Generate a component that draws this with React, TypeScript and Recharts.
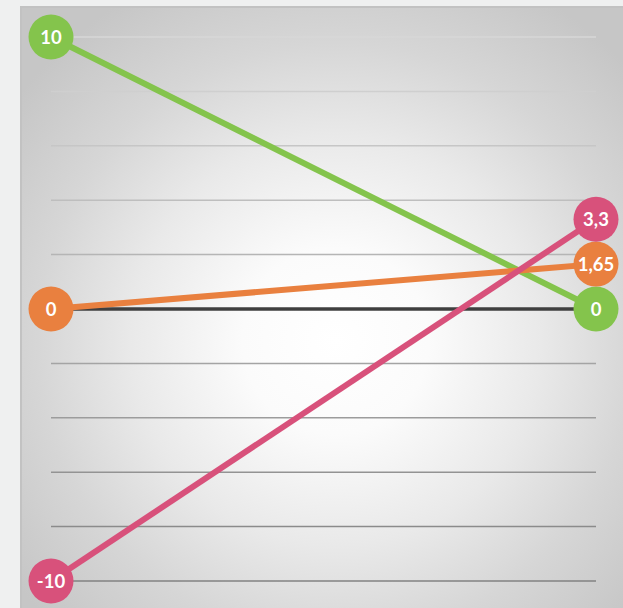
import React from 'react';
import { LineChart, Line, XAxis, YAxis, CartesianGrid, ReferenceLine } from 'recharts';

const categories = ['start', 'end'];
const greenValues = [10, 0];
const orangeValues = [0, 1.65];
const pinkValues = [-10, 3.3];
const yTicks = [-10, -8, -6, -4, -2, 0, 2, 4, 6, 8, 10];

const GREEN = '#84c44c';
const ORANGE = '#e9803f';
const PINK = '#d8517b';

const data = categories.map((name, i) => ({
  name,
  green: greenValues[i],
  orange: orangeValues[i],
  pink: pinkValues[i],
}));

const fmt = (v: number) => String(v).replace('.', ',');

const makeDot = (color: string, key: string) => (props: any) => {
  const { cx, cy, payload, index } = props;
  if (cx == null || cy == null) return <g key={`${key}-${index}`} />;
  return (
    <g key={`${key}-${index}`}>
      <circle cx={cx} cy={cy} r={22.5} fill={color} />
      <text
        x={cx}
        y={cy}
        dy="0.36em"
        textAnchor="middle"
        fill="#fff"
        fontSize={18.5}
        fontWeight={700}
        fontFamily="Lato, 'DejaVu Sans', sans-serif"
      >
        {fmt(payload[key])}
      </text>
    </g>
  );
};

// grid lines get darker toward the bottom of the panel
const gridLine = (props: any) => {
  const { x1, x2, y1, y2, index } = props;
  const t = Math.max(0, Math.min(1, (y1 - 37) / 544));
  const c = Math.round(215 - t * 85);
  return (
    <line
      key={`grid-${index}`}
      x1={x1}
      x2={x2}
      y1={y1}
      y2={y2}
      stroke={`rgb(${c},${c},${c})`}
      strokeWidth={1.5}
    />
  );
};

export default function App() {
  return (
    <div
      style={{
        position: 'absolute',
        left: 0,
        top: 0,
        width: 623,
        height: 608,
        background: '#eff0f0',
        overflow: 'hidden',
      }}
    >
      <div
        style={{
          position: 'absolute',
          left: 20,
          top: 6,
          width: 640,
          height: 640,
          borderTop: '2px solid #c2c2c2',
          borderLeft: '2px solid #c2c2c2',
          background:
            'radial-gradient(circle at 49% 52%, #ffffff 0%, #fbfbfb 20%, #e9e9e9 44%, #d6d6d6 64%, #c6c6c6 86%)',
        }}
      />
      <div style={{ position: 'absolute', left: 0, top: 0 }}>
        <LineChart
          width={623}
          height={608}
          data={data}
          margin={{ top: 37, right: 27, bottom: 27, left: 51 }}
        >
          <CartesianGrid vertical={false} horizontal={gridLine} />
          <XAxis dataKey="name" hide />
          <YAxis hide domain={[-10, 10]} ticks={yTicks} />
          <ReferenceLine y={0} stroke="#3f3f3f" strokeWidth={3.5} />
          <Line
            dataKey="green"
            stroke={GREEN}
            strokeWidth={6}
            dot={makeDot(GREEN, 'green')}
            activeDot={false}
            isAnimationActive={false}
          />
          <Line
            dataKey="orange"
            stroke={ORANGE}
            strokeWidth={6}
            dot={makeDot(ORANGE, 'orange')}
            activeDot={false}
            isAnimationActive={false}
          />
          <Line
            dataKey="pink"
            stroke={PINK}
            strokeWidth={6}
            dot={makeDot(PINK, 'pink')}
            activeDot={false}
            isAnimationActive={false}
          />
        </LineChart>
      </div>
    </div>
  );
}
